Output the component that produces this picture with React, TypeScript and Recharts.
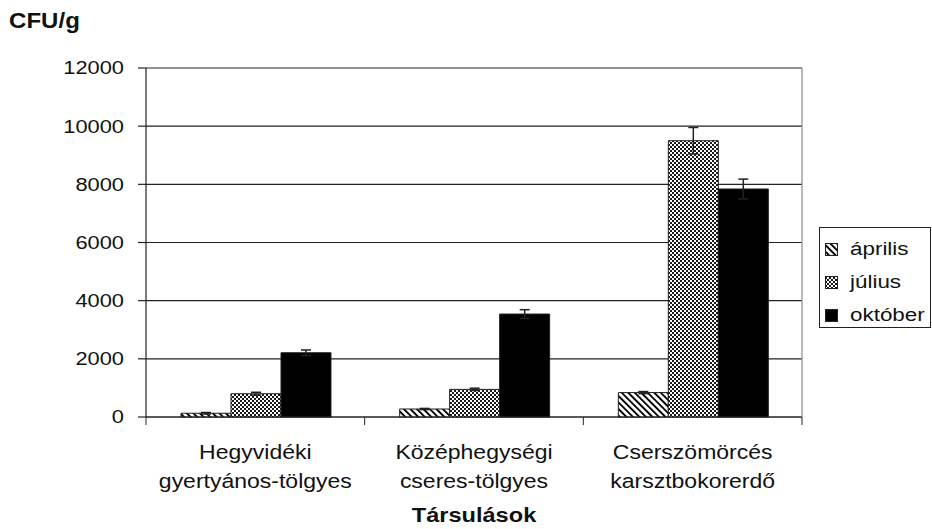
import {
  BarChart,
  Bar,
  ErrorBar,
  XAxis,
  YAxis,
  CartesianGrid,
  Legend,
} from 'recharts'

const CATEGORIES = [
  'Hegyvidéki gyertyános-tölgyes',
  'Középhegységi cseres-tölgyes',
  'Cserszömörcés karsztbokorerdő',
]
const SERIES_NAMES = ['április', 'július', 'október']
const APRIL = [130, 275, 840]
const APRIL_ERR = [25, 20, 35]
const JULY = [800, 950, 9500]
const JULY_ERR = [50, 40, 455]
const OCTOBER = [2210, 3540, 7840]
const OCTOBER_ERR = [95, 150, 340]
const Y_TICKS = [0, 2000, 4000, 6000, 8000, 10000, 12000]

const data = CATEGORIES.map((name, i) => ({
  name,
  apr: APRIL[i],
  aprErr: APRIL_ERR[i],
  jul: JULY[i],
  julErr: JULY_ERR[i],
  oct: OCTOBER[i],
  octErr: OCTOBER_ERR[i],
}))

const FONT = '"Liberation Sans", Arial, sans-serif'
// the source figure is stretched a bit horizontally
const STRETCH = 1.18
const INK = '#222'

const YTick = (props: any) => {
  const { x, y, payload } = props
  return (
    <text
      transform={`translate(${x},${y}) scale(${STRETCH},1)`}
      textAnchor='end'
      dy='0.35em'
      fontFamily={FONT}
      fontSize={18.5}
      fill='#111'
    >
      {payload.value}
    </text>
  )
}

const CategoryTick = (props: any) => {
  const { x, y, payload, index, width } = props
  const half = (width || 656) / CATEGORIES.length / 2
  const words = String(payload.value).split(' ')
  const first = words[0]
  const second = words.slice(1).join(' ')
  return (
    <g>
      <line x1={x - half} x2={x - half} y1={y} y2={y + 8} stroke={INK} />
      {index === CATEGORIES.length - 1 && (
        <line x1={x + half} x2={x + half} y1={y} y2={y + 8} stroke={INK} />
      )}
      <text
        transform={`translate(${x},${y + 42}) scale(${STRETCH},1)`}
        textAnchor='middle'
        fontFamily={FONT}
        fontSize={19.5}
        fill='#111'
      >
        {first}
      </text>
      <text
        transform={`translate(${x},${y + 71}) scale(${STRETCH},1)`}
        textAnchor='middle'
        fontFamily={FONT}
        fontSize={19.5}
        fill='#111'
      >
        {second}
      </text>
    </g>
  )
}

const LegendBox = (props: any) => {
  const items = props.payload || []
  return (
    <svg width={112} height={101} style={{ display: 'block' }}>
      <rect x={0.5} y={0.5} width={111} height={100} fill='#fff' stroke={INK} />
      {items.map((entry: any, i: number) => (
        <g key={entry.value}>
          <rect
            x={6.5}
            y={16.5 + i * 33}
            width={12}
            height={12}
            fill={entry.color}
            stroke={INK}
          />
          <text
            transform={`translate(31,${28 + i * 33}) scale(${STRETCH},1)`}
            fontFamily={FONT}
            fontSize={19}
            fill='#111'
          >
            {entry.value}
          </text>
        </g>
      ))}
    </svg>
  )
}

export default function App() {
  return (
    <div style={{ position: 'absolute', left: 0, top: 0, background: '#fff' }}>
      <BarChart
        width={932}
        height={529}
        data={data}
        margin={{ top: 68, right: 129, bottom: 0, left: 0 }}
        barCategoryGap='16%'
        barGap={0}
      >
        <defs>
          <pattern
            id='patApr'
            patternUnits='userSpaceOnUse'
            width={4.6}
            height={4.6}
            patternTransform='rotate(-45)'
          >
            <rect width={4.6} height={4.6} fill='#fff' />
            <rect width={1.9} height={4.6} fill='#000' />
          </pattern>
          <pattern id='patJul' patternUnits='userSpaceOnUse' width={4} height={4}>
            <rect width={4} height={4} fill='#fff' />
            <rect width={2} height={2} fill='#1a1a1a' />
            <rect x={2} y={2} width={2} height={2} fill='#1a1a1a' />
          </pattern>
        </defs>
        <CartesianGrid vertical={false} stroke={INK} strokeWidth={1.2} />
        <XAxis
          dataKey='name'
          height={112}
          tickLine={false}
          tickSize={0}
          tickMargin={0}
          axisLine={{ stroke: INK, strokeWidth: 1.2 }}
          tick={<CategoryTick />}
          interval={0}
          label={{
            content: (p: any) => (
              <text
                transform={`translate(${p.viewBox.x + p.viewBox.width / 2},522) scale(${STRETCH},1)`}
                textAnchor='middle'
                fontFamily={FONT}
                fontWeight='bold'
                fontSize={20}
                fill='#111'
              >
                Társulások
              </text>
            ),
          }}
        />
        <YAxis
          width={146}
          domain={[0, 12000]}
          ticks={Y_TICKS}
          interval={0}
          tickSize={8}
          tickMargin={14}
          tickLine={{ stroke: INK, strokeWidth: 1.2 }}
          axisLine={{ stroke: INK, strokeWidth: 1.2 }}
          tick={<YTick />}
          label={{
            content: () => (
              <text
                transform={`translate(9,28) scale(1.12,1)`}
                fontFamily={FONT}
                fontWeight='bold'
                fontSize={21.5}
                fill='#111'
              >
                CFU/g
              </text>
            ),
          }}
        />
        <YAxis
          yAxisId='right'
          orientation='right'
          width={1}
          domain={[0, 12000]}
          tick={false}
          tickLine={false}
          axisLine={{ stroke: '#8c8c8c', strokeWidth: 1.2 }}
        />
        <Legend
          layout='horizontal'
          verticalAlign='middle'
          align='center'
          itemSorter='dataKey'
          content={<LegendBox />}
          wrapperStyle={{ position: 'absolute', left: 819, top: 227, width: 112, height: 101 }}
        />
        <Bar
          dataKey='apr'
          name={SERIES_NAMES[0]}
          fill='url(#patApr)'
          stroke={INK}
          strokeWidth={1}
          isAnimationActive={false}
        >
          <ErrorBar dataKey='aprErr' width={5} stroke={INK} strokeWidth={1.5} />
        </Bar>
        <Bar
          dataKey='jul'
          name={SERIES_NAMES[1]}
          fill='url(#patJul)'
          stroke={INK}
          strokeWidth={1}
          isAnimationActive={false}
        >
          <ErrorBar dataKey='julErr' width={5} stroke={INK} strokeWidth={1.5} />
        </Bar>
        <Bar
          dataKey='oct'
          name={SERIES_NAMES[2]}
          fill='#000'
          stroke={INK}
          strokeWidth={1}
          isAnimationActive={false}
        >
          <ErrorBar dataKey='octErr' width={5} stroke={INK} strokeWidth={1.5} />
        </Bar>
      </BarChart>
    </div>
  )
}
